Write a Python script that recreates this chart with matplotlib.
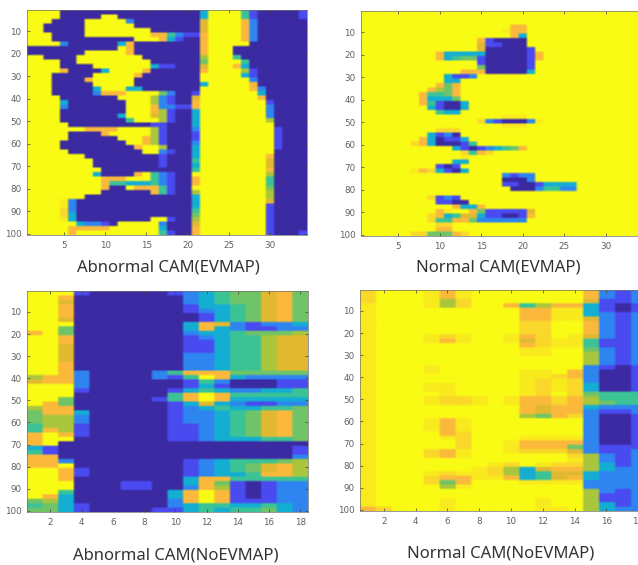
import numpy as np
import matplotlib
matplotlib.use('Agg')
import matplotlib.pyplot as plt
from matplotlib.colors import LinearSegmentedColormap

# parula-like map, levels 0-9
parula = ['#3B2AA2', '#4A4BF0', '#2E87F0', '#14AED2', '#3CC496',
          '#6FC468', '#A9C63C', '#E0BA30', '#FBB93C', '#F9FB14']
cmap = LinearSegmentedColormap.from_list('parula', parula, N=256)

# each string is 2 units of the y axis, one character per column
# 0-9 = level, q and p = pale orange tints between 8 and 9
abnormal_ev = [
    "9999000000" "0000000000" "0399994100" "0001",
    "9999000009" "9000000000" "0399994100" "0001",
    "9990000999" "9920000000" "0799998200" "0000",
    "9900000999" "9990000000" "0799998200" "0000",
    "9900000999" "9999900000" "0799998200" "0000",
    "9990000999" "9999988421" "1899998200" "0000",
    "9990000000" "0009998310" "0899998200" "0000",
    "9999200000" "0380000000" "0899999000" "0000",
    "0000000000" "0980000000" "0899900000" "0000",
    "0000000999" "9980000000" "0899900000" "0000",
    "9900009999" "9999000000" "0699940000" "0000",
    "9999009999" "9999900000" "0599994000" "0000",
    "9999000099" "9999931100" "0799983000" "0000",
    "9999800003" "9999800000" "0899996100" "0000",
    "9990000099" "9998000000" "0999993100" "0000",
    "9990000899" "9990000000" "0999999200" "0000",
    "9990000099" "9990000000" "0399999800" "0000",
    "9990000039" "9933000000" "0999999820" "0000",
    "9990000028" "8899995200" "1999999930" "0000",
    "9999000000" "0999962100" "7999999980" "0000",
    "9999300000" "0099962100" "8999999991" "0000",
    "9999200000" "0099982211" "8999999992" "0000",
    "9999000000" "0099986100" "3999999992" "0000",
    "9999000000" "0399976100" "3999999992" "0000",
    "9999000000" "0049996100" "3999999996" "0000",
    "9999900000" "0000011000" "3999999999" "0000",
    "9999999888" "8999961000" "2999999999" "1000",
    "9999900008" "9999961000" "1999999999" "1000",
    "9999900000" "0999861000" "1999999999" "1000",
    "9999000000" "0099861000" "2999999999" "1000",
    "9999000000" "0008996000" "3999999999" "1000",
    "9999900000" "0000992100" "3999999999" "0000",
    "9999999000" "0000001000" "3999999998" "0000",
    "9999999900" "0000001000" "4999999997" "0000",
    "9999999900" "0000001000" "3999999997" "0000",
    "9999999990" "0000000000" "4999999998" "0000",
    "9999999930" "0008942100" "9999999996" "0000",
    "9999999998" "8899942100" "8999999994" "0000",
    "9999999998" "4433342100" "8999999994" "0000",
    "9999999998" "0098884100" "9999999995" "0000",
    "9999999990" "0000084100" "6999999996" "0000",
    "9999999000" "0000000000" "3999999996" "0000",
    "9999p20000" "0000000000" "3999999997" "0000",
    "9999p20000" "0000000000" "3999999991" "0000",
    "9999q20000" "0000000000" "4999999991" "0000",
    "9999q30000" "0000000000" "5999999991" "0000",
    "9999p30000" "0000099100" "6999999991" "0000",
    "9999993221" "0999992000" "7999999991" "0000",
    "9999988888" "9999993000" "8999999991" "0000",
    "9999989999" "9999994100" "8999999991" "0001",
]

normal_ev = [
    "999999999999999999999999999",
    "999999999999999999999999999",
    "999999999999999999999999999",
    "999999999999999999889999999",
    "99999999999999999p889999999",
    "999999999999999999839999999",
    "999999999999998100009999999",
    "999999999999997110009999999",
    "999999999999997000001999999",
    "999999999833333000001899999",
    "999999999834551000001899999",
    "999999999999991000001999999",
    "999999999999995000001999999",
    "999999999999888000003999999",
    "999999999931129999999999999",
    "999999999933999999999999999",
    "999999999858999999999999999",
    "999999998658999999999999999",
    "999999984458999999999999999",
    "999999983335999999999999999",
    "999999984100399999999999999",
    "999999993100399999999999999",
    "999999999433999999999999999",
    "99999999999999999ppp9999999",
    "99999999999999q210002p99999",
    "99999999999999999ppp9999999",
    "999999999qqq999999999999999",
    "999999993120999999999999999",
    "999999983011399999999999999",
    "999999q83000149999999999999",
    "999999999993101234589999999",
    "999999999999q48q99999999999",
    "999999999999p99999999999999",
    "999999999993399999999999999",
    "999999999101999999999999999",
    "999999p8q310399999999999999",
    "999999999999999992122999999",
    "999999999999999990002999999",
    "999999999999999991100133339",
    "999999999999999999000244229",
    "999999999999999999999999999",
    "99999999q121999999999999999",
    "999999999110099999999999999",
    "999999999998338999999999999",
    "9999999998p9985111117999999",
    "99999999q834773110018999999",
    "99999999q448852222229999999",
    "999999999qq9999999999999999",
    "999999999889999999999999999",
    "999999qq5558q99999999999999",
]

abnormal_noev = [
    "999100000" "123455785",
    "998000000" "023455785",
    "997000000" "023455785",
    "998000000" "013345785",
    "998000000" "012345785",
    "998000000" "001345785",
    "997000000" "001345785",
    "999000000" "038721223",
    "995000000" "038321122",
    "895000000" "023345556",
    "998000000" "012344677",
    "998000000" "011344677",
    "997000000" "011344677",
    "997000000" "011344677",
    "997000000" "022344677",
    "997000000" "022344677",
    "998000000" "022344677",
    "998000000" "022344677",
    "998200002" "488855555",
    "688200002" "149832222",
    "788200000" "014200011",
    "999200000" "013100011",
    "999100000" "134322334",
    "999000000" "489844444",
    "995000001" "489833333",
    "985000000" "137321122",
    "688000000" "123433445",
    "588300000" "122345785",
    "566200000" "122345785",
    "566200000" "122345785",
    "466100000" "112345785",
    "486100000" "112345785",
    "898100000" "112345785",
    "899000000" "112333445",
    "890000000" "000000000",
    "310000000" "000000001",
    "410000000" "000000001",
    "880000000" "000000002",
    "882000000" "012344456",
    "889000000" "012345786",
    "998100000" "012345786",
    "998100000" "012334886",
    "998000000" "038844444",
    "999000110" "038510122",
    "999000110" "028610122",
    "994000000" "389810122",
    "983000000" "389810122",
    "563000000" "289811122",
    "453100000" "234433432",
    "553100001" "134344532",
]

normal_noev = [
    "q999p8p9999999" "8212",
    "q999p8p9999999" "8212",
    "q999p6q9999999" "7112",
    "p999p6q9984688" "3101",
    "p99999999988pp" "3101",
    "p99999999988pp" "3212",
    "p99999999988pp" "7212",
    "p999999999qq99" "8212",
    "p999999999qq99" "8212",
    "p999999999qq99" "8212",
    "p999pqp99p8q9p" "7212",
    "p999p8p99p7qpp" "4112",
    "p9999999998qpp" "4112",
    "p999999999pp99" "5212",
    "p999999999pp99" "6212",
    "p9999999999999" "6212",
    "p9999999999999" "6212",
    "p999p999999999" "2101",
    "p999p99999pp98" "2001",
    "p999999999ppq8" "2001",
    "p999999999pqpq" "2001",
    "p999pp9999pqpq" "3001",
    "p999pp9999pqpq" "3001",
    "p9999p9999pq9q" "5444",
    "p999pqqp9p88q8" "6444",
    "p999pqqp9p88q8" "6544",
    "p9999999998788" "3222",
    "p9999999998788" "2112",
    "p999999999658q" "2001",
    "p999p8p9999999" "2001",
    "p999p8p9999999" "2001",
    "p999p8p9999999" "2001",
    "p99998q9999999" "2001",
    "p9999pq999pppp" "2001",
    "p99999q99p8888" "2001",
    "p99999q99p8885" "2111",
    "p999q8p99pqqq7" "2112",
    "p999q8p999999q" "6212",
    "p999999999999p" "6212",
    "p9999999pq9pqq" "6312",
    "p999999pq63788" "6322",
    "p999pqppq63477" "3222",
    "p999q88pp83478" "3222",
    "p999q58999pppp" "2222",
    "p99996p9999999" "2222",
    "p9999999999999" "6212",
    "p9999999999999" "6112",
    "p9999p99999p99" "6112",
    "p9999p99999p99" "6312",
    "8q999p99999pp9" "6322",
]

titles = ['Abnormal CAM(EVMAP)', 'Normal CAM(EVMAP)',
          'Abnormal CAM(NoEVMAP)', 'Normal CAM(NoEVMAP)']
ev_xticks = [5, 10, 15, 20, 25, 30]
noev_xticks = [2, 4, 6, 8, 10, 12, 14, 16, 18]
yticks = [10, 20, 30, 40, 50, 60, 70, 80, 90, 100]

W, H = 638, 565
levels = {'p': 8.75, 'q': 8.45}


def to_grid(rows, ncols):
    grid = []
    for r in rows:
        r = r.ljust(ncols, '9')
        grid.append([levels[c] if c in levels else int(c) for c in r[:ncols]])
    return np.array(grid)


def panel(x0, x1, y0, y1, rows, ncols, xticks, rep):
    # pixel box -> figure fractions
    ax = fig.add_axes([x0/W, 1-y1/H, (x1-x0)/W, (y1-y0)/H])
    # repeat cells so bilinear only softens the edges, the source is a blurry screenshot
    grid = np.repeat(np.repeat(to_grid(rows, ncols), 2, axis=0), rep, axis=1)
    ax.imshow(grid, cmap=cmap, vmin=0, vmax=9, aspect='auto',
              interpolation='bilinear', extent=(0.5, ncols+0.5, 100.5, 0.5))
    ax.set_xticks(xticks)
    ax.set_yticks(yticks)
    ax.tick_params(direction='in', length=2, width=0.5, labelsize=6.3,
                   labelcolor='#606060', color='#404040', top=True, right=True, pad=4)
    for s in ax.spines.values():
        s.set_linewidth(0.5)
        s.set_color('#707070')
    return ax


fig = plt.figure(figsize=(W/100, H/100), dpi=100)
panel(27, 307, 10, 235, abnormal_ev, 34, ev_xticks, 3)
panel(361, 643, 11, 236, normal_ev, 34, ev_xticks, 3)
panel(27, 308, 291, 512, abnormal_noev, 18, noev_xticks, 6)
panel(360, 646, 290, 511, normal_noev, 18, noev_xticks, 6)

label_pos = [(168, 267), (498, 267), (176, 555), (501, 554)]
for t, (x, y) in zip(titles, label_pos):
    fig.text(x/W, 1-y/H, t, ha='center', va='center', fontsize=12,
             family='Noto Sans', color='#333333')

plt.savefig('out.png', dpi=100)
